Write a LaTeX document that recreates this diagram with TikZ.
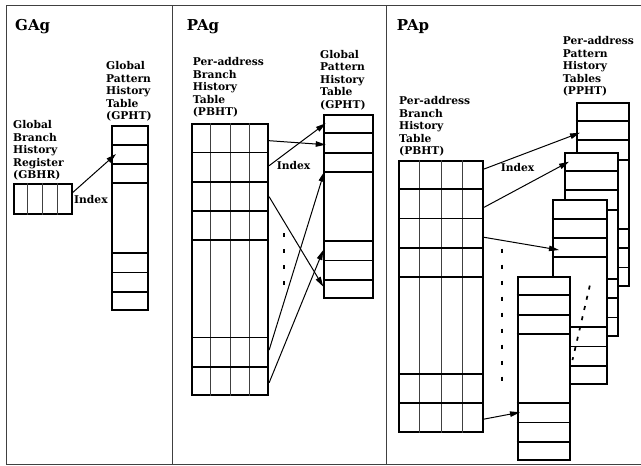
\documentclass[tikz,border=0pt]{standalone}
\usepackage{fontspec}
\setmainfont{DejaVu Serif}
\usetikzlibrary{arrows.meta, calc}

\tikzset{
  tbl/.style={draw, line width=1.8pt, fill=white, inner sep=0pt, anchor=north west},
  rowline/.style={line width=1.8pt},
  colline/.style={line width=0.8pt, black!75},
  idx/.style={line width=1pt, -{Triangle[length=10pt,width=5.5pt]}},
  lbl/.style={font=\bfseries\fontsize{10.7}{12.5}\selectfont, align=left, inner sep=0pt, anchor=north west},
  ttl/.style={font=\bfseries\fontsize{15}{18}\selectfont, inner sep=0pt, anchor=north west},
  dotline/.style={line width=1.8pt, dash pattern=on 4pt off 12pt},
  frame/.style={line width=0.9pt, black!75}
}

% rows of a pattern history table: three at the top, three at the bottom
\newcommand{\phtrows}[1]{%
  \foreach \dd in {19.3,38.6,58}{%
    \draw[rowline] ([yshift=-\dd pt]#1.north west) -- ([yshift=-\dd pt]#1.north east);
    \draw[rowline] ([yshift=\dd pt]#1.south west) -- ([yshift=\dd pt]#1.south east);
  }}

% four columns of a history register / table
\newcommand{\bhtcols}[1]{%
  \foreach \cc in {0.25,0.5,0.75}{%
    \draw[colline] ($(#1.north west)!\cc!(#1.north east)$) -- ($(#1.south west)!\cc!(#1.south east)$);
  }}

% rows of a branch history table: four at the top, two at the bottom
\newcommand{\bhtrows}[1]{%
  \foreach \dd in {29.2,58.4,87.6,116.8}{%
    \draw[rowline] ([yshift=-\dd pt]#1.north west) -- ([yshift=-\dd pt]#1.north east);
  }
  \foreach \dd in {29.2,58.4}{%
    \draw[rowline] ([yshift=\dd pt]#1.south west) -- ([yshift=\dd pt]#1.south east);
  }}

\begin{document}
\begin{tikzpicture}[x=1pt, y=-1pt]
  \useasboundingbox (0,0) rectangle (641,466);

  % Frame
  \draw[frame] (641,5.3) -- (6.3,5.3) -- (6.3,464.5) -- (641,464.5);
  \draw[frame] (172,5.3) -- (172,464.5);
  \draw[frame] (386,5.3) -- (386,464.5);

  % ---- GAg ----
  \node[ttl] (tGAg) at (15,19.5) {GAg};
  \node[lbl] (lGBHR) at (13,120.5) {Global\\Branch\\History\\Register\\(GBHR)};
  \node[lbl] (lGPHTa) at (106,61.5) {Global\\Pattern\\History\\Table\\(GPHT)};

  \node[tbl, minimum width=58pt, minimum height=30pt] (gbhr) at (12.7,182.7) {};
  \bhtcols{gbhr}

  \node[tbl, minimum width=36pt, minimum height=184pt] (gphtA) at (111,125.3) {};
  \phtrows{gphtA}

  \draw[idx] ([yshift=-10pt]gbhr.north east) -- ([xshift=5pt,yshift=-28.7pt]gphtA.north west);
  \node[lbl, anchor=west] (iGAg) at (74,199.5) {Index};

  % ---- PAg ----
  \node[ttl] (tPAg) at (186.7,19.5) {PAg};
  \node[lbl] (lPBHTb) at (192.7,57.5) {Per-address\\Branch\\History\\Table\\(PBHT)};
  \node[lbl] (lGPHTb) at (320,50) {Global\\Pattern\\History\\Table\\(GPHT)};

  \node[tbl, minimum width=76.3pt, minimum height=270.7pt] (pbhtB) at (191,123.3) {};
  \bhtcols{pbhtB}
  \bhtrows{pbhtB}

  \node[tbl, minimum width=48.4pt, minimum height=183.3pt] (gphtB) at (323.3,114) {};
  \phtrows{gphtB}

  \draw[idx] ([yshift=-17.4pt]pbhtB.north east) -- ([xshift=2.4pt,yshift=-30.7pt]gphtB.north west);
  \draw[idx] ([yshift=-42.4pt]pbhtB.north east) -- ([xshift=2.4pt,yshift=-9.3pt]gphtB.north west);
  \draw[idx] ([yshift=-73.4pt]pbhtB.north east) -- ([yshift=-172.7pt]gphtB.north west);
  \draw[idx] ([yshift=45.7pt]pbhtB.south east) -- ([xshift=1pt,yshift=-57.7pt]gphtB.north west);
  \draw[idx] ([yshift=13pt]pbhtB.south east) -- ([yshift=-136pt]gphtB.north west);
  \node[lbl, anchor=west] (iPAg) at (276.7,165.5) {Index};

  \draw[dotline] (284.3,233) -- (284.3,285);

  % ---- PAp ----
  \node[ttl] (tPAp) at (396.7,19.5) {PAp};
  \node[lbl] (lPBHTc) at (399,96.5) {Per-address\\Branch\\History\\Table\\(PBHT)};
  \node[lbl] (lPPHT) at (562.7,36.5) {Per-address\\Pattern\\History\\Tables\\(PPHT)};

  \node[tbl, minimum width=84pt, minimum height=270.7pt] (pbhtC) at (398.3,160) {};
  \bhtcols{pbhtC}
  \bhtrows{pbhtC}

  % stacked per-address tables, back to front
  \node[tbl, minimum width=52.6pt, minimum height=183.3pt] (pphtA) at (575.7,101.7) {};
  \phtrows{pphtA}
  \node[tbl, minimum width=52.7pt, minimum height=183.3pt] (pphtB) at (564,151.7) {};
  \phtrows{pphtB}
  \node[tbl, minimum width=54pt, minimum height=184pt] (pphtC) at (551.7,199.3) {};
  \phtrows{pphtC}
  \node[tbl, minimum width=52.6pt, minimum height=183.3pt] (pphtD) at (516.7,276) {};
  \phtrows{pphtD}

  \draw[idx] ([yshift=-9pt]pbhtC.north east) -- ([xshift=4.3pt,yshift=-31pt]pphtA.north west);
  \draw[idx] ([yshift=-47.3pt]pbhtC.north east) -- ([xshift=5pt,yshift=-10pt]pphtB.north west);
  \draw[idx] ([yshift=-77.3pt]pbhtC.north east) -- ([xshift=7.3pt,yshift=-50.7pt]pphtC.north west);
  \draw[idx] ([yshift=13.4pt]pbhtC.south east) -- ([xshift=3.3pt,yshift=-136.3pt]pphtD.north west);
  \node[lbl, anchor=west] (iPAp) at (500.7,168) {Index};

  \draw[dotline] (501.7,248.7) -- (501.7,380.7);
  \draw[line width=1.7pt, dash pattern=on 4pt off 6.5pt] (589.8,285.6) -- (572.5,360);
\end{tikzpicture}
\end{document}
